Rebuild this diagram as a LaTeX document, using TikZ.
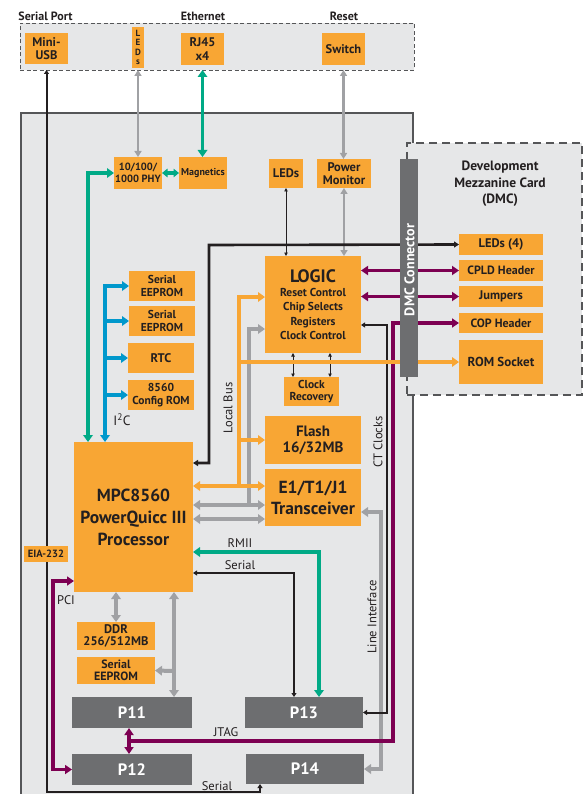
\documentclass[tikz,border=0pt]{standalone}
\usepackage{fontspec}
\setmainfont{PT Sans}
\usetikzlibrary{arrows.meta}
\definecolor{orng}{RGB}{248,166,52}
\definecolor{lgray}{RGB}{230,231,232}
\definecolor{dgray}{RGB}{109,110,112}
\definecolor{grnc}{RGB}{0,170,134}
\definecolor{bluec}{RGB}{0,152,204}
\definecolor{purc}{RGB}{125,0,82}
\definecolor{grayc}{RGB}{160,161,164}
\definecolor{blk}{RGB}{35,31,32}
\definecolor{txt}{RGB}{35,31,32}
\definecolor{bordc}{RGB}{85,86,88}
\newcommand\myfs[2]{\fontsize{#1}{#2}\selectfont}
\tikzset{
  gT/.tip={Triangle[width=9.5pt,length=7pt]},
  gsT/.tip={Triangle[width=8.5pt,length=5.5pt]},
  pT/.tip={Triangle[width=9pt,length=7pt]},
  kT/.tip={Triangle[width=6pt,length=5pt]},
  sT/.tip={Triangle[width=5pt,length=4pt]},
  tT/.tip={Triangle[width=3.5pt,length=3.5pt]},
  gmT/.tip={Triangle[width=7pt,length=6pt]},
  box/.style={inner sep=0pt,outer sep=0pt,anchor=north west,align=center,text=txt},
  obox/.style={box,fill=orng,font=\bfseries\myfs{12.5}{13.5}},
  pbox/.style={box,fill=dgray,text=white,font=\bfseries\myfs{16.5}{18}},
  lbl/.style={text=txt,inner sep=0pt,font=\myfs{12.5}{14}},
  ttl/.style={text=txt,inner sep=0pt,font=\bfseries\myfs{12}{14}},
  grn/.style={draw=grnc,line width=3.8pt},
  org/.style={draw=orng,line width=4pt},
  blu/.style={draw=bluec,line width=4pt},
  pur/.style={draw=purc,line width=3.5pt},
  gryK/.style={draw=grayc,line width=4pt},
  gryM/.style={draw=grayc,line width=2.6pt},
  blkK/.style={draw=blk,line width=2.6pt},
  blkM/.style={draw=blk,line width=2pt},
  blkT/.style={draw=blk,line width=0.9pt}
}
\begin{document}
\begin{tikzpicture}[x=1pt,y=-1pt]
\useasboundingbox (0,0) rectangle (587,794);
\fill[white] (0,0) rectangle (587,794);
% frames
\node[box,draw=bordc,line width=1.2pt,fill=lgray,minimum width=392pt,minimum height=700pt] (main) at (21,113) {};
\node[box,draw=bordc,line width=0.9pt,dash pattern=on 4pt off 2.5pt,fill=lgray,minimum width=394pt,minimum height=47pt] (topbar) at (20,23) {};
\node[box,draw=bordc,line width=1.2pt,dash pattern=on 8pt off 5pt,fill=lgray,minimum width=175pt,minimum height=252pt] (dmc) at (407,143) {};
% titles
\node[ttl] (tsp) at (45.5,16) {Serial Port};
\node[ttl] (teth) at (203,16) {Ethernet};
\node[ttl] (trst) at (344,16) {Reset};
\node[lbl,align=center,font=\bfseries\myfs{13.5}{16.5}] (dmct) at (500,184) {Development\\Mezzanine Card\\(DMC)};
% boxes
\node[obox,minimum width=43pt,minimum height=31pt] (usb) at (25,33) {Mini-\\USB};
\node[obox,minimum width=12pt,minimum height=41pt,font=\bfseries\myfs{9}{9.5}] (ledv) at (132,27) {L\\E\\D\\s};
\node[obox,minimum width=43pt,minimum height=32pt] (rj) at (181,33) {RJ45\\x4};
\node[obox,minimum width=43pt,minimum height=32pt] (sw) at (322,33) {Switch};
\node[obox,minimum width=48pt,minimum height=32pt,font=\bfseries\myfs{10.5}{12.5}] (phy) at (114,157) {10/100/\\1000 PHY};
\node[obox,minimum width=48pt,minimum height=32pt,font=\bfseries\myfs{10}{11}] (mag) at (179,157) {Magnetics};
\node[obox,minimum width=34pt,minimum height=29pt] (leds) at (269,159) {LEDs};
\node[obox,minimum width=54pt,minimum height=29pt,font=\bfseries\myfs{12.5}{12.5}] (pwr) at (317,159) {Power\\Monitor};
\node[obox,minimum width=84pt,minimum height=21pt] (l4) at (459,234) {LEDs (4)};
\node[obox,minimum width=84pt,minimum height=21pt,font=\bfseries\myfs{12}{13}] (cpld) at (459,260) {CPLD Header};
\node[obox,minimum width=84pt,minimum height=21pt] (jmp) at (459,286) {Jumpers};
\node[obox,minimum width=84pt,minimum height=20pt,font=\bfseries\myfs{12}{13}] (cop) at (459,313) {COP Header};
\node[obox,minimum width=84pt,minimum height=44pt,font=\bfseries\myfs{13}{14}] (rom) at (459,340) {ROM Socket};
\node[obox,minimum width=96pt,minimum height=97pt,font=\bfseries\myfs{11.5}{14.4}] (logic) at (265,256) {{\myfs{18}{21}LOGIC}\\Reset Control\\Chip Selects\\Registers\\Clock Control};
\node[obox,minimum width=55pt,minimum height=29pt,font=\bfseries\myfs{11.5}{11.5}] (clk) at (284,377) {Clock\\Recovery};
\node[obox,minimum width=96pt,minimum height=48pt,font=\bfseries\myfs{15}{16}] (flash) at (265,416) {Flash\\16/32MB};
\node[obox,minimum width=96pt,minimum height=57pt,font=\bfseries\myfs{17.5}{21}] (e1) at (265,469) {E1/T1/J1\\Transceiver};
\node[obox,minimum width=66pt,minimum height=30pt,font=\bfseries\myfs{11.5}{12.3}] (ee1) at (129,271) {Serial\\EEPROM};
\node[obox,minimum width=66pt,minimum height=30pt,font=\bfseries\myfs{11.5}{12.3}] (ee2) at (129,306) {Serial\\EEPROM};
\node[obox,minimum width=66pt,minimum height=30pt] (rtc) at (128,343) {RTC};
\node[obox,minimum width=66pt,minimum height=30pt,font=\bfseries\myfs{11.5}{12.7}] (cfg) at (128,380) {8560\\Config ROM};
\node[obox,minimum width=119pt,minimum height=150pt,font=\bfseries\myfs{17.5}{22}] (mpc) at (74,442) {MPC8560\\PowerQuicc III\\Processor};
\node[obox,minimum width=78pt,minimum height=28pt,font=\bfseries\myfs{12.5}{12.5}] (ddr) at (77,622) {DDR\\256/512MB};
\node[obox,minimum width=78pt,minimum height=27pt,font=\bfseries\myfs{12}{12}] (ee3) at (77,657) {Serial\\EEPROM};
\node[pbox,minimum width=120pt,minimum height=31pt] (p11) at (72,697) {P11};
\node[pbox,minimum width=120pt,minimum height=31pt] (p12) at (72,754) {P12};
\node[pbox,minimum width=118pt,minimum height=31pt] (p13) at (245,697) {P13};
\node[pbox,minimum width=118pt,minimum height=30pt] (p14) at (246,754) {P14};
% ---- connectors ----
% gray
\draw[gryM,gmT-gmT] (phy.north -| ledv.south) -- (topbar.south -| ledv.south);
\draw[gryM,gmT-gmT] (pwr.north -| sw.south) -- (topbar.south -| sw.south);
\draw[gryM,gmT-gmT] (pwr.south) -- (logic.north -| pwr.south);
\draw[gryK,gT-gT] (mpc.east |- 0,505) -- (e1.west |- 0,505);
\draw[gryK,-gT] (249,505) -- (249,329) -- (logic.west |- 0,329);
\draw[gryK,gT-gT] (mpc.east |- 0,519) -- (e1.west |- 0,519);
\draw[gryK,gT-gT] (e1.east |- 0,512) -- (381,512) |- (p14.east);
\draw[gryK,gT-gT] (mpc.south -| 116,0) -- (ddr.north -| 116,0);
\draw[gryK,gT-gT] (mpc.south -| 174,0) -- (p11.north -| 174,0);
\draw[gryK,-gT] (174,671) -- (ee3.east);
% black
\draw[blkM,sT-sT] (topbar.south -| usb.south) -- (usb.south |- 0,792) -- (260,792) -- (p14.south -| 260,0);
\draw[blkT,tT-tT] (leds.south) -- (logic.north -| leds.south);
\draw[blkK,kT-kT] (mpc.east |- 0,463) -- (209,463) -- (209,245) -- (l4.west);
\draw[blkM,sT-sT] (p13.east) -- (387,712.5) |- (logic.east |- 0,325);
\draw[blkM,sT-sT] (p13.north -| 294,0) |- (mpc.east |- 0,573);
\draw[blkT,tT-tT] (logic.south -| 293,0) -- (clk.north -| 293,0);
\draw[blkT,tT-tT] (logic.south -| 330,0) -- (clk.north -| 330,0);
% purple
\draw[pur,pT-pT] (logic.east |- cpld.west) -- (cpld.west);
\draw[pur,pT-pT] (logic.east |- jmp.west) -- (jmp.west);
\draw[pur,pT-pT] (p11.south -| 129,0) -- (p12.north -| 129,0);
\coordinate (jt) at (129,741);
\draw[pur,-pT] (jt) -- (393,741) |- (cop.west);
\draw[pur,pT-pT] (mpc.west |- 0,581) -- (53,581) |- (p12.west);
% green
\draw[grn,gT-gT] (mag.north -| rj.south) -- (topbar.south -| rj.south);
\draw[grn,gsT-gsT] (phy.east) -- (mag.west);
\draw[grn,gT-gT] (mpc.north -| 88,0) -- (88,173) -- (phy.west);
\draw[grn,gT-gT] (p13.north -| 319,0) |- (mpc.east |- 0,552);
% blue
\draw[blu,gT-gT] (ee1.west) -| (mpc.north -| 105,0);
\draw[blu,-gT] (105,0 |- ee2.west) -- (ee2.west);
\draw[blu,-gT] (105,0 |- rtc.west) -- (rtc.west);
\draw[blu,-gT] (105,0 |- cfg.west) -- (cfg.west);
% orange local bus
\draw[org,gT-gT] (mpc.east |- 0,486) -- (e1.west |- 0,486);
\draw[org,-gT] (239,486) -- (239,297) -- (logic.west |- 0,297);
\draw[org,-gT] (239,440) -- (flash.west);
\draw[org,-gT] (239,362) -- (rom.west);
% box over black line
\node[obox,minimum width=44pt,minimum height=16pt,font=\bfseries\myfs{10.5}{11}] (eia) at (24,546) {EIA-232};
% DMC connector
\node[box,fill=dgray,minimum width=18pt,minimum height=218pt] (conn) at (400,159) {};
\node[text=white,inner sep=0pt,rotate=90,font=\bfseries\myfs{14}{16}] (connl) at (409.5,270) {DMC Connector};
% line labels
\node[lbl,rotate=90] (llb) at (228,408) {Local Bus};
\node[lbl,rotate=90] (lct) at (378,442) {CT Clocks};
\node[lbl,rotate=90] (lli) at (372,617) {Line Interface};
\node[lbl] (lrm) at (240,543) {RMII};
\node[lbl] (lse) at (240,565) {Serial};
\node[lbl] (ljt) at (226,732) {JTAG};
\node[lbl] (lse2) at (217,786) {Serial};
\node[lbl] (lpci) at (66,600) {PCI};
\node[lbl,font=\myfs{13.5}{14}] (li2c) at (122,420) {I\textsuperscript{2}C};
\end{tikzpicture}
\end{document}
